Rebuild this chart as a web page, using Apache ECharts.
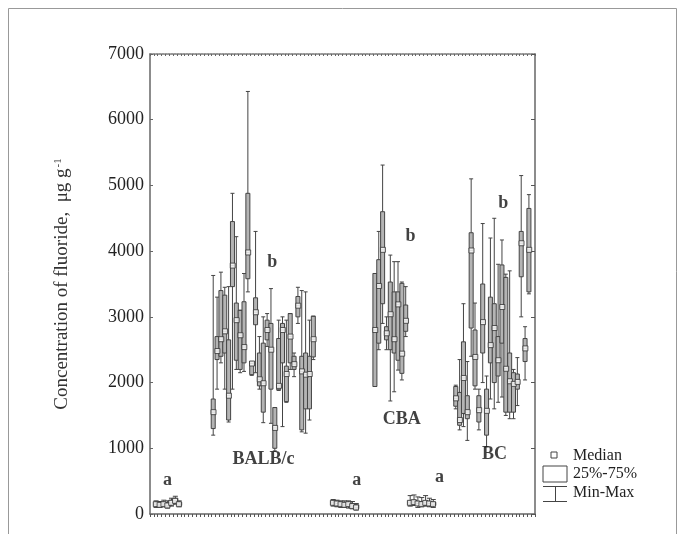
<!DOCTYPE html>
<html><head><meta charset="utf-8">
<script src="https://cdn.jsdelivr.net/npm/echarts@6/dist/echarts.min.js"></script>
<style>html,body{margin:0;padding:0;background:#fff}#c{width:685px;height:534px}</style>
</head><body><div id="c"></div>
<script>
// ---- data: each row is [min, Q1, median, Q3, max] ----
const yTicks = [0, 1000, 2000, 3000, 4000, 5000, 6000, 7000];
const groupLabels = ['BALB/c', 'CBA', 'BC'];
const letterLabels = ['a', 'b'];

const a1 = [
  [100,120,150,180,200],[100,120,140,170,190],[110,130,150,180,210],
  [90,110,130,170,200],[120,140,170,210,240],[150,170,200,240,270],[110,130,150,180,200]
];
const balbc = [
  [1200,1300,1550,1750,3630],[1900,2350,2480,2700,3300],[2300,2400,2660,3400,3680],
  [1900,2450,2780,3330,3450],[1400,1430,1800,2650,3460],[1900,3460,3780,4450,4880],
  [2200,2340,2950,3210,4220],[2150,2200,2720,3100,3100],[2170,2300,2540,3230,3660],
  [3380,3580,3980,4880,6430],[2110,2120,2290,2320,2320],[2150,2880,3070,3290,4300],
  [1900,1950,2050,2450,2700],[1390,1550,1990,2600,3000],[2550,2650,2800,2950,3050],
  [1380,1900,2500,2900,3430],[960,1000,1310,1620,1620],[1880,1890,1950,2670,2950],
  [1330,2300,2800,2900,3000],[1700,1710,2130,2250,2950],[2200,2300,2700,3050,3050],
  [2090,2200,2280,2400,2450],[2900,3000,3170,3310,3450],[1250,1280,2170,2400,3400],
  [1230,1600,2120,2450,3380],[1430,1600,2130,2400,2950],[2350,2390,2660,3010,3010]
];
const a2 = [
  [120,140,170,200,220],[110,130,160,190,210],[100,130,150,180,200],
  [100,120,140,170,200],[90,120,150,180,200],[80,100,120,160,190],[60,80,100,140,160]
];
const cba = [
  [1940,1940,2800,3660,3660],[2500,2600,3470,3870,4300],[2900,3200,4020,4600,5310],
  [2500,2650,2750,2850,3000],[1720,2500,3040,3530,3940],[1860,2450,2660,3380,3840],
  [2190,2340,3190,3380,3840],[2040,2140,2440,3510,3530],[2700,2780,2940,3180,3460]
];
const a3 = [
  [120,140,170,200,280],[130,150,180,210,290],[100,130,160,190,260],
  [110,130,150,190,250],[120,140,170,200,280],[110,130,160,190,240],[100,130,150,180,220]
];
const bc = [
  [1600,1640,1760,1940,1960],[1280,1350,1430,1850,2350],[1330,1530,2070,2620,3200],
  [1120,1450,1550,1800,2320],[2400,2830,4010,4280,5100],[1900,1950,2390,2800,3210],
  [1280,1400,1580,1800,1900],[2000,2450,2920,3500,4420],[1020,1200,1570,1900,2100],
  [1750,2300,2570,3300,4200],[1600,2000,2830,3200,4500],[1700,2100,2340,2700,3800],
  [1780,2600,3150,3790,4170],[1500,1550,2210,3600,3650],[1450,1550,2020,2450,3700],
  [1450,1550,1980,2150,2200],[1650,1900,2010,2130,2380],[3000,3610,4120,4300,5150],
  [2040,2320,2520,2670,2850],[3350,3380,4020,4650,4860]
];

// ---- layout (slot positions along the x axis) ----
const N = 100;
const slots = Array.from({length: N}, (_, i) => String(i));
const starts = {a1: 1, balbc: 16, a2: 47, cba: 58, a3: 67, bc: 79};
// text annotations: [text, slot, value]
const annotations = [
  [letterLabels[0], 4.2, 500], [groupLabels[0], 29.1, 820], [letterLabels[1], 31.4, 3820],
  [letterLabels[0], 53.3, 500], [groupLabels[1], 65, 1430], [letterLabels[1], 67.3, 4216],
  [letterLabels[0], 74.8, 548], [groupLabels[2], 89.1, 898], [letterLabels[1], 91.4, 4718]
];

function place(rows, start) { return rows.map((r, i) => [start + i].concat(r)); }
const mainBoxes = [].concat(place(balbc, starts.balbc), place(cba, starts.cba), place(bc, starts.bc));
const smallBoxes = [].concat(place(a1, starts.a1), place(a2, starts.a2), place(a3, starts.a3));
const medians = mainBoxes.concat(smallBoxes).map(r => [r[0], r[3]]);

const SERIF = '"Liberation Serif", "DejaVu Serif", serif';
const chart = echarts.init(document.getElementById('c'));

const boxStyle = {color: '#b4b4b4', borderColor: '#444', borderWidth: 1};

chart.setOption({
  animation: false,
  backgroundColor: '#fff',
  grid: {left: 150, right: 150, top: 54, bottom: 20, outerBoundsMode: 'none'},
  xAxis: [
    {type: 'category', data: slots, position: 'bottom', boundaryGap: true,
     axisLine: {onZero: false, lineStyle: {color: '#666', width: 1.5}},
     axisTick: {show: true, interval: 0, length: 3, lineStyle: {color: '#555'}},
     axisLabel: {show: false}, splitLine: {show: false}},
    {type: 'category', data: slots, position: 'top', boundaryGap: true,
     axisLine: {onZero: false, lineStyle: {color: '#777', width: 1.5, type: [2, 1]}},
     axisTick: {show: true, interval: 0, inside: true, length: 2, lineStyle: {color: '#666'}},
     axisLabel: {show: false}, splitLine: {show: false}},
    {type: 'value', min: -0.5, max: N - 0.5, show: false}
  ],
  yAxis: [
    {type: 'value', min: yTicks[0], max: yTicks[yTicks.length - 1], interval: 1000, position: 'left',
     axisLine: {show: true, onZero: false, lineStyle: {color: '#666', width: 1.5}},
     axisTick: {show: true, inside: true, length: 3, lineStyle: {color: '#666'}},
     axisLabel: {fontFamily: SERIF, fontSize: 18, color: '#222', margin: 6, formatter: v => String(v)},
     splitLine: {show: false},
     name: 'Concentration of fluoride,  μg g{sup|-1}',
     nameLocation: 'middle', nameGap: 78,
     nameTextStyle: {fontFamily: SERIF, fontSize: 19, color: '#333',
       rich: {sup: {fontFamily: SERIF, fontSize: 11, color: '#333', verticalAlign: 'top', padding: [0, 0, 8, 1]}}}
    },
    {type: 'value', min: yTicks[0], max: yTicks[yTicks.length - 1], interval: 1000, position: 'right',
     axisLine: {show: true, onZero: false, lineStyle: {color: '#666', width: 1.5}},
     axisTick: {show: true, inside: true, length: 4, lineStyle: {color: '#555'}},
     axisLabel: {show: false}, splitLine: {show: false}}
  ],
  series: [
    {type: 'boxplot', xAxisIndex: 0, yAxisIndex: 0, data: mainBoxes,
     encode: {x: 0, y: [1, 2, 3, 4, 5]}, boxWidth: [4, 4], itemStyle: boxStyle},
    {type: 'boxplot', xAxisIndex: 0, yAxisIndex: 0, data: smallBoxes,
     encode: {x: 0, y: [1, 2, 3, 4, 5]}, boxWidth: [5, 5], itemStyle: boxStyle},
    {type: 'scatter', xAxisIndex: 0, yAxisIndex: 0, data: medians, symbol: 'rect', symbolSize: 5,
     itemStyle: {color: '#fff', borderColor: '#333', borderWidth: 1}, z: 5},
    {type: 'scatter', xAxisIndex: 2, yAxisIndex: 0, symbol: 'circle', symbolSize: 1,
     itemStyle: {color: 'rgba(0,0,0,0)'},
     data: annotations.map(a => ({name: a[0], value: [a[1], a[2]]})),
     label: {show: true, position: [0, 0], align: 'center', verticalAlign: 'middle',
       formatter: p => p.name, textBorderWidth: 0,
       fontFamily: SERIF, fontWeight: 'bold', fontSize: 18, color: '#111'}, z: 6}
  ],
  graphic: [
    {type: 'rect', shape: {x: 8.5, y: 8.5, width: 668, height: 600}, style: {fill: 'none', stroke: '#999', lineWidth: 1}, silent: true},
    {type: 'rect', shape: {x: 551, y: 452, width: 6, height: 6}, style: {fill: '#fff', stroke: '#444', lineWidth: 1}},
    {type: 'text', x: 573, y: 456, style: {text: 'Median', font: '16px ' + SERIF, fill: '#222', verticalAlign: 'middle'}},
    {type: 'rect', shape: {x: 543, y: 466, width: 24, height: 16}, style: {fill: '#fff', stroke: '#444', lineWidth: 1}},
    {type: 'text', x: 573, y: 474, style: {text: '25%-75%', font: '16px ' + SERIF, fill: '#222', verticalAlign: 'middle'}},
    {type: 'line', shape: {x1: 543, y1: 486.5, x2: 567, y2: 486.5}, style: {stroke: '#444', lineWidth: 1}},
    {type: 'line', shape: {x1: 555.5, y1: 486.5, x2: 555.5, y2: 501.5}, style: {stroke: '#444', lineWidth: 1}},
    {type: 'line', shape: {x1: 543, y1: 501.5, x2: 567, y2: 501.5}, style: {stroke: '#444', lineWidth: 1}},
    {type: 'text', x: 573, y: 493, style: {text: 'Min-Max', font: '16px ' + SERIF, fill: '#222', verticalAlign: 'middle'}}
  ]
});
</script>
</body></html>
